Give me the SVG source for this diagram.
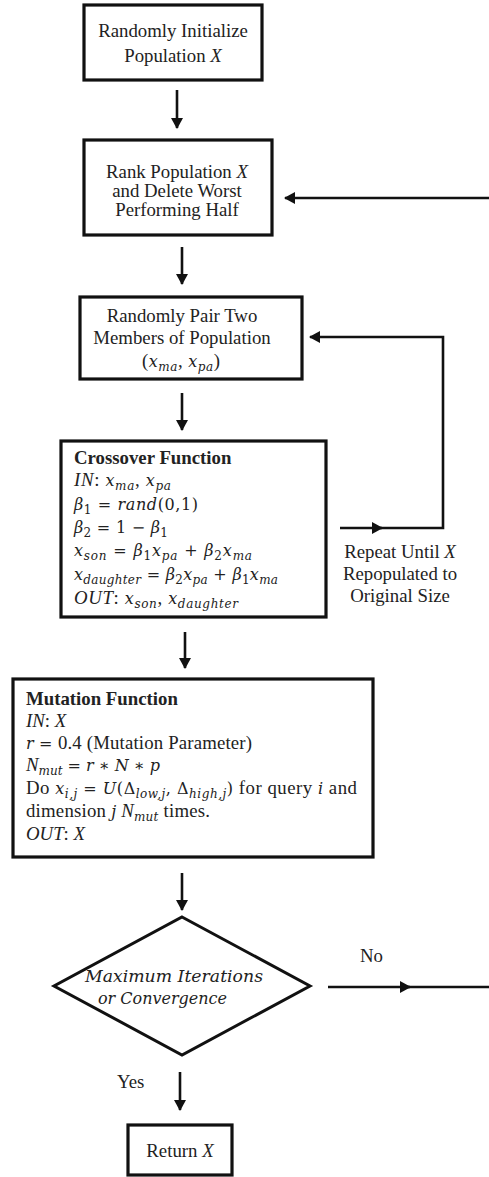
<svg xmlns="http://www.w3.org/2000/svg" width="489" height="1177" viewBox="0 0 489 1177">
<defs>
<style>
text{font-family:"Liberation Serif","Times New Roman",serif;font-size:18.8px;fill:#222}
.c{text-anchor:middle}
.b{font-weight:bold}
.i{font-style:italic}
.m{font-family:"DejaVu Serif",serif;font-style:italic;font-size:16px}
.mu{font-family:"DejaVu Serif",serif;font-size:16px}
.sb{font-family:"DejaVu Serif",serif;font-size:12px;font-style:italic}
.sn{font-family:"DejaVu Serif",serif;font-size:12px}
.box{fill:#fff;stroke:#111;stroke-width:3.2}
.ln{fill:none;stroke:#111;stroke-width:2.6}
.dm{font-family:"DejaVu Serif",serif;font-style:italic;font-size:16px}
</style>
<marker id="ah" markerUnits="userSpaceOnUse" markerWidth="11" markerHeight="12" refX="10" refY="6" orient="auto">
<path d="M0,0 L11,6 L0,12 z" fill="#111"/>
</marker>
</defs>
<rect width="489" height="1177" fill="#fff"/>

<g id="connectors">
<line class="ln" x1="177" y1="90" x2="177" y2="128" marker-end="url(#ah)"/>
<line class="ln" x1="489" y1="198" x2="285" y2="198" marker-end="url(#ah)"/>
<line class="ln" x1="182" y1="247" x2="182" y2="284" marker-end="url(#ah)"/>
<line class="ln" x1="182" y1="393" x2="182" y2="430" marker-end="url(#ah)"/>
<line class="ln" x1="340" y1="528" x2="382" y2="528" marker-end="url(#ah)"/>
<path class="ln" d="M380,528 L443,528 L443,337 L310,337" marker-end="url(#ah)"/>
<line class="ln" x1="185" y1="632" x2="185" y2="668" marker-end="url(#ah)"/>
<line class="ln" x1="182" y1="873" x2="182" y2="910" marker-end="url(#ah)"/>
<line class="ln" x1="328" y1="987" x2="410" y2="987" marker-end="url(#ah)"/>
<line class="ln" x1="405" y1="987" x2="489" y2="987"/>
<line class="ln" x1="180" y1="1072" x2="180" y2="1110" marker-end="url(#ah)"/>
</g>

<g id="init">
<rect class="box" x="84" y="5" width="178" height="75"/>
<text class="c" x="173" y="37">Randomly Initialize</text>
<text class="c" x="173" y="62">Population <tspan class="i">X</tspan></text>
</g>

<g id="rank">
<rect class="box" x="84" y="140" width="188" height="95"/>
<text class="c" x="177" y="178">Rank Population <tspan class="i">X</tspan></text>
<text class="c" x="177" y="197">and Delete Worst</text>
<text class="c" x="177" y="216">Performing Half</text>
</g>

<g id="pair">
<rect class="box" x="80" y="297" width="222" height="82"/>
<text class="c" x="182" y="322">Randomly Pair Two</text>
<text class="c" x="182" y="344">Members of Population</text>
<text x="142" y="367" textLength="78" lengthAdjust="spacing">(<tspan class="m">x</tspan><tspan class="sb" dy="4">ma</tspan><tspan dy="-4">, </tspan><tspan class="m">x</tspan><tspan class="sb" dy="4">pa</tspan><tspan dy="-4">)</tspan></text>
</g>

<g id="crossover">
<rect class="box" x="61" y="441" width="265" height="176"/>
<text class="b" x="74" y="464">Crossover Function</text>
<text x="74" y="486" textLength="97" lengthAdjust="spacing"><tspan class="i">IN</tspan>: <tspan class="m">x</tspan><tspan class="sb" dy="4">ma</tspan><tspan dy="-4">, </tspan><tspan class="m">x</tspan><tspan class="sb" dy="4">pa</tspan></text>
<text x="74" y="510" textLength="124" lengthAdjust="spacing"><tspan class="m">β</tspan><tspan class="sn" dy="4">1</tspan><tspan class="mu" dy="-4"> = </tspan><tspan class="m">rand</tspan><tspan class="mu">(0,1)</tspan></text>
<text x="74" y="533" textLength="94" lengthAdjust="spacing"><tspan class="m">β</tspan><tspan class="sn" dy="4">2</tspan><tspan class="mu" dy="-4"> = 1 − </tspan><tspan class="m">β</tspan><tspan class="sn" dy="4">1</tspan></text>
<text x="74" y="556" textLength="178" lengthAdjust="spacing"><tspan class="m">x</tspan><tspan class="sb" dy="4">son</tspan><tspan class="mu" dy="-4"> = </tspan><tspan class="m">β</tspan><tspan class="sn" dy="4">1</tspan><tspan class="m" dy="-4">x</tspan><tspan class="sb" dy="4">pa</tspan><tspan class="mu" dy="-4"> + </tspan><tspan class="m">β</tspan><tspan class="sn" dy="4">2</tspan><tspan class="m" dy="-4">x</tspan><tspan class="sb" dy="4">ma</tspan></text>
<text x="74" y="580" textLength="204" lengthAdjust="spacing"><tspan class="m">x</tspan><tspan class="sb" dy="4">daughter</tspan><tspan class="mu" dy="-4"> = </tspan><tspan class="m">β</tspan><tspan class="sn" dy="4">2</tspan><tspan class="m" dy="-4">x</tspan><tspan class="sb" dy="4">pa</tspan><tspan class="mu" dy="-4"> + </tspan><tspan class="m">β</tspan><tspan class="sn" dy="4">1</tspan><tspan class="m" dy="-4">x</tspan><tspan class="sb" dy="4">ma</tspan></text>
<text x="74" y="604" textLength="164" lengthAdjust="spacing"><tspan class="i">OUT</tspan>: <tspan class="m">x</tspan><tspan class="sb" dy="4">son</tspan><tspan dy="-4">, </tspan><tspan class="m">x</tspan><tspan class="sb" dy="4">daughter</tspan></text>
</g>

<g id="repeat-label">
<text class="c" x="400" y="558">Repeat Until <tspan class="i">X</tspan></text>
<text class="c" x="400" y="580">Repopulated to</text>
<text class="c" x="400" y="602">Original Size</text>
</g>

<g id="mutation">
<rect class="box" x="13" y="679" width="360" height="178"/>
<text class="b" x="26" y="705">Mutation Function</text>
<text x="26" y="727"><tspan class="i">IN</tspan>: <tspan class="i">X</tspan></text>
<text x="26" y="749" textLength="226" lengthAdjust="spacing"><tspan class="m">r</tspan><tspan class="mu"> = </tspan>0.4 (Mutation Parameter)</text>
<text x="26" y="771" textLength="134" lengthAdjust="spacing"><tspan class="i">N</tspan><tspan class="sb" dy="4">mut</tspan><tspan class="mu" dy="-4"> = </tspan><tspan class="m">r</tspan><tspan class="mu"> ∗ </tspan><tspan class="m">N</tspan><tspan class="mu"> ∗ </tspan><tspan class="m">p</tspan></text>
<text x="26" y="794" textLength="331" lengthAdjust="spacing">Do <tspan class="m">x</tspan><tspan class="sb" dy="4">i,j</tspan><tspan class="mu" dy="-4"> = </tspan><tspan class="m">U</tspan><tspan class="mu">(Δ</tspan><tspan class="sb" dy="4">low,j</tspan><tspan class="mu" dy="-4">, Δ</tspan><tspan class="sb" dy="4">high,j</tspan><tspan class="mu" dy="-4">)</tspan> for query <tspan class="m">i</tspan> and</text>
<text x="26" y="817" textLength="184" lengthAdjust="spacing">dimension <tspan class="m">j</tspan> <tspan class="i">N</tspan><tspan class="sb" dy="4">mut</tspan><tspan dy="-4"> times.</tspan></text>
<text x="26" y="840"><tspan class="i">OUT</tspan>: <tspan class="i">X</tspan></text>
</g>

<g id="decision">
<polygon points="182,917 310,986 182,1055 54,986" fill="#fff" stroke="#111" stroke-width="3"/>
<text class="dm" x="85" y="982" textLength="178" lengthAdjust="spacingAndGlyphs">Maximum Iterations</text>
<text class="dm" x="98" y="1004" textLength="129" lengthAdjust="spacingAndGlyphs">or Convergence</text>
</g>

<g id="labels">
<text x="360" y="962">No</text>
<text x="117" y="1088">Yes</text>
</g>

<g id="return">
<rect class="box" x="128" y="1125" width="104" height="50"/>
<text class="c" x="180" y="1157">Return <tspan class="i">X</tspan></text>
</g>
</svg>
